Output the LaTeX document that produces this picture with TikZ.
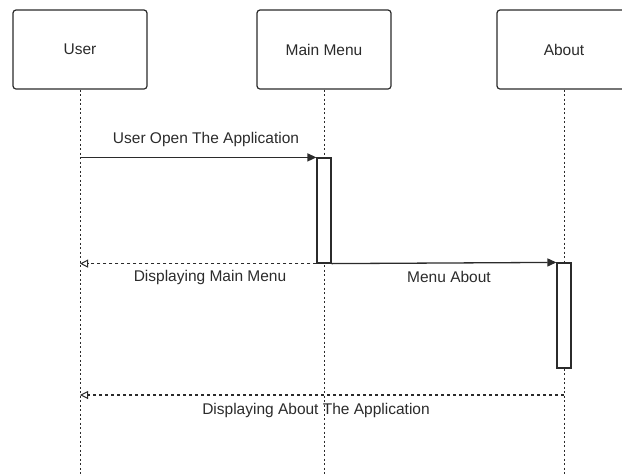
\documentclass[tikz,border=0pt]{standalone}
\usepackage{fontspec}
\setmainfont{Liberation Sans}
\usetikzlibrary{arrows.meta}
\definecolor{ink}{HTML}{2B2B2B}
\tikzset{
  actor/.style={draw=ink, line width=1.2pt, rounded corners=3pt, fill=white,
    minimum width=134pt, minimum height=79pt, inner sep=0pt,
    font=\fontsize{15.5}{17}\selectfont, text=ink},
  lifeline/.style={draw=ink, line width=1pt, dash pattern=on 2pt off 2.5pt},
  activation/.style={draw=ink, line width=1.2pt, fill=white,
    minimum width=14pt, inner sep=0pt},
  callmsg/.style={draw=ink, line width=1.3pt, -{Triangle[length=9pt,width=8pt]}},
  replymsg/.style={draw=ink, line width=1.1pt, dash pattern=on 3pt off 3pt,
    -{Triangle[open,length=8pt,width=8pt,line width=1pt]}},
  msglabel/.style={inner sep=0pt, font=\fontsize{15.5}{17}\selectfont, text=ink}
}
\begin{document}
\begin{tikzpicture}[x=1pt, y=-1pt]
\useasboundingbox (0,0) rectangle (622,475);
\clip (0,0) rectangle (622,475);

% participants
\node[actor] (user)  at (80,49.5)  {User};
\node[actor] (menu)  at (324,49.5) {Main Menu};
\node[actor] (about) at (564,49.5) {About};

% lifelines
\coordinate (userEnd)  at (80,475);
\coordinate (menuEnd)  at (324,475);
\coordinate (aboutEnd) at (564,475);
\draw[lifeline] (user.south)  -- (userEnd);
\draw[lifeline] (menu.south)  -- (menuEnd);
\draw[lifeline] (about.south) -- (aboutEnd);

% activation bars
\node[activation, minimum height=105pt] (menuAct)  at (324,210.5) {};
\node[activation, minimum height=105pt] (aboutAct) at (564,315.5) {};

% messages
\draw[callmsg] (user.south |- menuAct.north west) -- (menuAct.north west);
\draw[replymsg] (menuAct.south west) -- (user.south |- menuAct.south west);
\draw[callmsg] (menuAct.south east) -- (aboutAct.north west);
\coordinate (aboutReply) at (564,395);
\draw[replymsg] (aboutReply) -- (user.south |- aboutReply);

% message labels
\node[msglabel] (l1) at (206,139) {User Open The Application};
\node[msglabel] (l2) at (210,277) {Displaying Main Menu};
\node[msglabel] (l3) at (449,277) {Menu About};
\node[msglabel] (l4) at (316,410) {Displaying About The Application};
\end{tikzpicture}
\end{document}
